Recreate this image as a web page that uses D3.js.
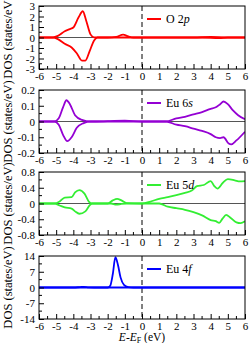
<!DOCTYPE html>
<html>
<head>
<meta charset="utf-8">
<script src="https://cdn.jsdelivr.net/npm/d3@7"></script>
<style>
  body { margin: 0; background: #fff; }
  svg, svg text { font-family: "Liberation Serif", "Times New Roman", serif; }
</style>
</head>
<body>
<svg id="chart" width="249" height="343"></svg>
<script>
// ---------------- DATA ([E - EF, DOS]) ----------------
const xTicks = [-6, -5, -4, -3, -2, -1, 0, 1, 2, 3, 4, 5, 6];

// O 2p
const o2pUp = [[-6, 0], [-5.2, 0], [-4.9, 0.15], [-4.5, 0.6], [-4.2, 0.8], [-4.0, 0.95], [-3.7, 1.9], [-3.45, 2.5], [-3.25, 1.6], [-3.0, 0.3], [-2.8, 0.02], [-2.0, 0], [-1.5, 0.05], [-1.1, 0.28], [-0.8, 0.1], [-0.5, 0], [3.0, 0], [4.0, 0.05], [5.0, 0], [6, 0]];
const o2pDn = [[-6, 0], [-5.2, 0], [-4.9, -0.15], [-4.5, -0.6], [-4.1, -0.95], [-3.8, -1.5], [-3.5, -2.2], [-3.3, -2.2], [-3.05, -1.3], [-2.8, -0.3], [-2.6, 0], [-2.0, 0], [3.5, 0], [4.5, -0.05], [5.0, 0], [6, 0]];

// Eu 6s
const eu6sUp = [[-6, 0], [-5.1, 0], [-4.85, 0.02], [-4.6, 0.09], [-4.4, 0.135], [-4.2, 0.11], [-3.9, 0.04], [-3.5, 0.01], [-3.0, 0], [-2.0, 0.002], [-1.0, 0.005], [0, 0], [1.4, 0], [2.0, 0.02], [2.5, 0.03], [3.0, 0.045], [3.5, 0.06], [4.0, 0.08], [4.3, 0.09], [4.55, 0.11], [4.75, 0.127], [5.0, 0.11], [5.3, 0.07], [5.6, 0.04], [6, 0.015]];
const eu6sDn = [[-6, 0], [-5.1, 0], [-4.85, -0.02], [-4.6, -0.085], [-4.35, -0.125], [-4.1, -0.1], [-3.8, -0.04], [-3.4, -0.01], [-3.0, 0], [0, 0], [1.4, 0], [2.0, -0.02], [2.5, -0.03], [3.0, -0.045], [3.5, -0.06], [4.0, -0.08], [4.3, -0.1], [4.55, -0.105], [4.75, -0.1], [5.05, -0.14], [5.2, -0.145], [5.5, -0.12], [6, -0.065]];

// Eu 5d
const eu5dUp = [[-6, 0], [-5.1, 0], [-4.8, 0.05], [-4.5, 0.15], [-4.1, 0.16], [-3.9, 0.28], [-3.65, 0.34], [-3.35, 0.25], [-3.1, 0.05], [-2.9, 0], [-2.0, 0], [-1.7, 0.08], [-1.45, 0.12], [-1.2, 0.08], [-0.9, 0.01], [0, 0], [0.5, 0.05], [1.0, 0.12], [1.5, 0.16], [2.0, 0.21], [2.5, 0.27], [2.9, 0.33], [3.2, 0.44], [3.6, 0.47], [4.0, 0.57], [4.2, 0.45], [4.4, 0.38], [4.7, 0.52], [5.0, 0.62], [5.4, 0.59], [5.7, 0.56], [6, 0.57]];
const eu5dDn = [[-6, 0], [-5.1, 0], [-4.8, -0.05], [-4.5, -0.1], [-4.1, -0.13], [-3.9, -0.2], [-3.65, -0.26], [-3.3, -0.2], [-3.05, -0.05], [-2.9, 0], [-1.8, 0], [-1.5, -0.03], [-1.2, -0.01], [-0.9, 0], [1.0, 0], [1.5, -0.08], [2.0, -0.12], [2.5, -0.16], [3.0, -0.22], [3.5, -0.3], [4.0, -0.42], [4.3, -0.45], [4.5, -0.49], [4.7, -0.38], [4.9, -0.29], [5.15, -0.36], [5.5, -0.48], [5.75, -0.5], [6, -0.45]];

// Eu 4f
const eu4fUp = [[-6, 0], [-4.0, 0], [-3.6, 0.2], [-3.4, 0.3], [-3.1, 0.1], [-2.5, 0], [-2.0, 0], [-1.85, 0.8], [-1.7, 6], [-1.55, 13.5], [-1.4, 10], [-1.25, 4.5], [-1.05, 1.2], [-0.8, 0.2], [-0.5, 0], [6, 0]];
const eu4fDn = [[-6, 0], [6, 0]];

const panels = [
  { up: o2pUp, dn: o2pDn, color: "#ff0000", domain: [-3, 3], major: [-3, -2, -1, 0, 1, 2, 3], minorStep: 0.5, name: ["O 2", "p"] },
  { up: eu6sUp, dn: eu6sDn, color: "#9400d3", domain: [-0.2, 0.2], major: [-0.2, -0.1, 0, 0.1, 0.2], minorStep: 0.05, name: ["Eu 6", "s"] },
  { up: eu5dUp, dn: eu5dDn, color: "#33ee33", domain: [-0.8, 0.8], major: [-0.8, -0.4, 0, 0.4, 0.8], minorStep: 0.2, name: ["Eu 5", "d"] },
  { up: eu4fUp, dn: eu4fDn, color: "#0000ff", domain: [-14, 14], major: [-14, -7, 0, 7, 14], minorStep: 3.5, name: ["Eu 4", "f"] }
];

// ---------------- LAYOUT ----------------
const svg = d3.select("#chart");
const FONT = "Liberation Serif";
const left = 39, right = 245;
const tops = [6, 90, 172, 256];
const ph = 63;

const x = d3.scaleLinear().domain([-6, 6]).range([left, right]);
const xMinor = d3.range(-6, 6.01, 0.5);

panels.forEach((p, i) => {
  const top = tops[i], bottom = top + ph;
  const y = d3.scaleLinear().domain(p.domain).range([bottom, top]);
  const g = svg.append("g");

  const clipId = "clip" + i;
  svg.append("clipPath").attr("id", clipId)
    .append("rect").attr("x", left).attr("y", top).attr("width", right - left).attr("height", ph);

  // zero line
  g.append("line")
    .attr("x1", left).attr("x2", right)
    .attr("y1", y(0)).attr("y2", y(0))
    .attr("stroke", "#555").attr("stroke-width", 1);

  // dashed Fermi level
  g.append("line")
    .attr("x1", x(0)).attr("x2", x(0))
    .attr("y1", top).attr("y2", bottom)
    .attr("stroke", "#000").attr("stroke-width", 1)
    .attr("stroke-dasharray", "5,3");

  // curves
  const line = d3.line()
    .x(d => x(d[0]))
    .y(d => y(d[1]))
    .curve(d3.curveMonotoneX);

  [p.up, p.dn].forEach(s => {
    g.append("path")
      .datum(s)
      .attr("clip-path", `url(#${clipId})`)
      .attr("fill", "none")
      .attr("stroke", p.color)
      .attr("stroke-width", 1.8)
      .attr("d", line);
  });

  // x axis (ticks inward)
  const xAxis = g.append("g").attr("transform", `translate(0,${bottom})`)
    .call(d3.axisBottom(x).tickValues(xTicks).tickSize(-5).tickPadding(3).tickFormat(d => String(d)));
  xAxis.append("g").selectAll("line")
    .data(xMinor.filter(v => !xTicks.includes(v)))
    .join("line")
    .attr("x1", d => x(d)).attr("x2", d => x(d))
    .attr("y1", 0).attr("y2", -3)
    .attr("stroke", "#000");

  // y axis (ticks inward)
  const yAxis = g.append("g").attr("transform", `translate(${left},0)`)
    .call(d3.axisLeft(y).tickValues(p.major).tickSize(-5).tickPadding(4).tickFormat(d => String(d)));
  const yMinor = d3.range(p.domain[0], p.domain[1] + 1e-9, p.minorStep)
    .filter(v => !p.major.some(m => Math.abs(m - v) < 1e-9));
  yAxis.append("g").selectAll("line")
    .data(yMinor)
    .join("line")
    .attr("x1", 0).attr("x2", 3)
    .attr("y1", d => y(d)).attr("y2", d => y(d))
    .attr("stroke", "#000");

  [xAxis, yAxis].forEach(a => {
    a.attr("font-family", FONT).attr("font-size", 11);
    a.select(".domain").remove();
    a.selectAll("text").attr("font-family", FONT).attr("font-size", 11).attr("fill", "#000");
    a.selectAll(".tick line").attr("stroke", "#000");
  });

  // frame
  g.append("rect")
    .attr("x", left).attr("y", top)
    .attr("width", right - left).attr("height", ph)
    .attr("fill", "none").attr("stroke", "#000").attr("stroke-width", 1);

  // legend
  g.append("line")
    .attr("x1", 147).attr("x2", 161)
    .attr("y1", top + 13).attr("y2", top + 13)
    .attr("stroke", p.color).attr("stroke-width", 2);
  const lt = g.append("text")
    .attr("x", 166).attr("y", top + 17)
    .attr("font-family", FONT)
    .attr("font-size", 12);
  lt.append("tspan").text(p.name[0]);
  lt.append("tspan").attr("font-style", "italic").text(p.name[1]);

  // y label
  g.append("text")
    .attr("transform", `translate(12,${(top + bottom) / 2}) rotate(-90)`)
    .attr("text-anchor", "middle")
    .attr("font-family", FONT)
    .attr("font-size", 12.5)
    .text("DOS (states/eV)");
});

// x label
const xl = svg.append("text")
  .attr("x", 142).attr("y", 341)
  .attr("text-anchor", "middle")
  .attr("font-family", FONT)
  .attr("font-size", 11.5);
xl.append("tspan").attr("font-style", "italic").text("E");
xl.append("tspan").text("-");
xl.append("tspan").attr("font-style", "italic").text("E");
xl.append("tspan").attr("font-size", 8).attr("dy", 2).text("F");
xl.append("tspan").attr("dy", -2).text(" (eV)");
</script>
</body>
</html>
